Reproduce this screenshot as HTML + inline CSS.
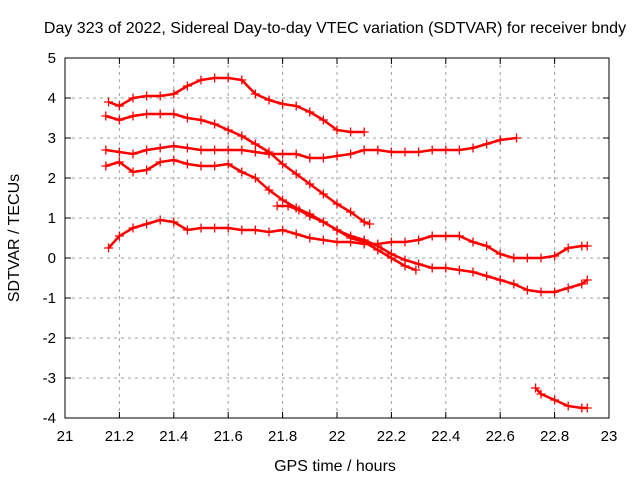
<!DOCTYPE html>
<html><head><meta charset="utf-8"><style>
body{margin:0;background:#fff}
svg{display:block;font-family:"Liberation Sans",sans-serif}
</style></head><body>
<svg id="chart" width="640" height="480" xmlns="http://www.w3.org/2000/svg">
<rect width="640" height="480" fill="#fff"/>
<text x="335" y="33" font-size="16" text-anchor="middle">Day 323 of 2022, Sidereal Day-to-day VTEC variation (SDTVAR) for receiver bndy</text>
<text x="335" y="471" font-size="16" text-anchor="middle">GPS time / hours</text>
<text x="19" y="238" font-size="16" text-anchor="middle" transform="rotate(-90 19 238)">SDTVAR / TECUs</text>
<g id="grid"></g>
<g id="marks"></g>
<rect x="65" y="58" width="544" height="360" fill="none" stroke="#000" stroke-width="1"/>
</svg>
<script>
const xTicks=[21,21.2,21.4,21.6,21.8,22,22.2,22.4,22.6,22.8,23];
const xTickLabels=["21","21.2","21.4","21.6","21.8","22","22.2","22.4","22.6","22.8","23"];
const yTicks=[5,4,3,2,1,0,-1,-2,-3,-4];
const yTickLabels=["5","4","3","2","1","0","-1","-2","-3","-4"];
const trackA=[[21.16,3.9],[21.2,3.8],[21.25,4.0],[21.3,4.05],[21.35,4.05],[21.4,4.1],[21.45,4.3],[21.5,4.45],[21.55,4.5],[21.6,4.5],[21.65,4.45],[21.7,4.1],[21.75,3.95],[21.8,3.85],[21.85,3.8],[21.9,3.65],[21.95,3.45],[22.0,3.2],[22.05,3.15],[22.1,3.15]];
const trackB=[[21.15,3.55],[21.2,3.45],[21.25,3.55],[21.3,3.6],[21.35,3.6],[21.4,3.6],[21.45,3.5],[21.5,3.45],[21.55,3.35],[21.6,3.2],[21.65,3.05],[21.7,2.85],[21.75,2.65],[21.8,2.35],[21.85,2.1],[21.9,1.85],[21.95,1.6],[22.0,1.35],[22.05,1.15],[22.1,0.9],[22.12,0.85]];
const trackC=[[21.15,2.7],[21.2,2.65],[21.25,2.6],[21.3,2.7],[21.35,2.75],[21.4,2.8],[21.45,2.75],[21.5,2.7],[21.55,2.7],[21.6,2.7],[21.65,2.7],[21.7,2.65],[21.75,2.6],[21.8,2.6],[21.85,2.6],[21.9,2.5],[21.95,2.5],[22.0,2.55],[22.05,2.6],[22.1,2.7],[22.15,2.7],[22.2,2.65],[22.25,2.65],[22.3,2.65],[22.35,2.7],[22.4,2.7],[22.45,2.7],[22.5,2.75],[22.55,2.85],[22.6,2.95],[22.66,3.0]];
const trackD=[[21.15,2.3],[21.2,2.4],[21.25,2.15],[21.3,2.2],[21.35,2.4],[21.4,2.45],[21.45,2.35],[21.5,2.3],[21.55,2.3],[21.6,2.35],[21.65,2.15],[21.7,2.0],[21.75,1.7],[21.8,1.45],[21.85,1.25],[21.9,1.1],[21.95,0.9],[22.0,0.7],[22.05,0.55],[22.1,0.45],[22.15,0.3],[22.2,0.1],[22.25,-0.05],[22.3,-0.15],[22.35,-0.25],[22.4,-0.25],[22.45,-0.3],[22.5,-0.35],[22.55,-0.45],[22.6,-0.55],[22.65,-0.65],[22.7,-0.8],[22.75,-0.85],[22.8,-0.85],[22.85,-0.75],[22.9,-0.65],[22.92,-0.55]];
const trackE=[[21.16,0.25],[21.2,0.55],[21.25,0.75],[21.3,0.85],[21.35,0.95],[21.4,0.9],[21.45,0.7],[21.5,0.75],[21.55,0.75],[21.6,0.75],[21.65,0.7],[21.7,0.7],[21.75,0.65],[21.8,0.7],[21.85,0.6],[21.9,0.5],[21.95,0.45],[22.0,0.4],[22.05,0.4],[22.1,0.35],[22.15,0.35],[22.2,0.4],[22.25,0.4],[22.3,0.45],[22.35,0.55],[22.4,0.55],[22.45,0.55],[22.5,0.4],[22.55,0.3],[22.6,0.1],[22.65,0.0],[22.7,0.0],[22.75,0.0],[22.8,0.05],[22.85,0.25],[22.9,0.3],[22.92,0.3]];
const trackF=[[21.78,1.3],[21.82,1.3],[21.86,1.2],[21.9,1.05],[21.95,0.9],[22.0,0.7],[22.05,0.5],[22.1,0.4],[22.15,0.2],[22.2,0.0],[22.25,-0.2],[22.29,-0.3]];
const trackH=[[22.73,-3.25],[22.75,-3.4],[22.8,-3.55],[22.85,-3.7],[22.9,-3.75],[22.92,-3.75]];
const tracks=[trackA,trackB,trackC,trackD,trackE,trackF,trackH];

const NS="http://www.w3.org/2000/svg";
const X0=65,X1=609,Y0=58,Y1=418;
function xs(v){return X0+(v-21)/(23-21)*(X1-X0);}
function ys(v){return Y0+(5-v)/(5-(-4))*(Y1-Y0);}
function mk(tag,attrs,parent){const e=document.createElementNS(NS,tag);for(const k in attrs)e.setAttribute(k,attrs[k]);parent.appendChild(e);return e;}
const grid=document.getElementById('grid');
const svg=document.getElementById('chart');
xTicks.forEach((t,i)=>{
  const x=xs(t);
  if(i>0&&i<xTicks.length-1){const g=mk('line',{x1:x,x2:x,y1:Y0,y2:Y1,stroke:'#a0a0a0','stroke-dasharray':'3,4'},grid);
  
  }
  mk('line',{x1:x,x2:x,y1:Y1,y2:Y1-6,stroke:'#000'},grid);
  mk('line',{x1:x,x2:x,y1:Y0,y2:Y0+6,stroke:'#000'},grid);
  const tx=mk('text',{x:x,y:Y1+23,'font-size':15,'text-anchor':'middle'},svg);
  tx.textContent=xTickLabels[i];
  
  
});
yTicks.forEach((t,i)=>{
  const y=ys(t);
  if(i>0&&i<yTicks.length-1){const g=mk('line',{x1:X0,x2:X1,y1:y,y2:y,stroke:'#a0a0a0','stroke-dasharray':'3,4'},grid);
  
  }
  mk('line',{x1:X0,x2:X0+6,y1:y,y2:y,stroke:'#000'},grid);
  mk('line',{x1:X1,x2:X1-6,y1:y,y2:y,stroke:'#000'},grid);
  const tx=mk('text',{x:X0-9,y:y+5,'font-size':15,'text-anchor':'end'},svg);
  tx.textContent=yTickLabels[i];
  
  
});
const marks=document.getElementById('marks');
tracks.forEach((tr,ti)=>{
  const g=mk('g',{},marks);
  
  
  const pl=mk('polyline',{points:tr.map(p=>xs(p[0])+','+ys(p[1])).join(' '),fill:'none',stroke:'#f00','stroke-width':2.5,'stroke-linejoin':'round'},g);
  
  
  tr.forEach(p=>{
    const x=xs(p[0]),y=ys(p[1]);
    const m=mk('path',{d:`M${x-4.5},${y}h9M${x},${y-4.5}v9`,stroke:'#f00','stroke-width':1.3},g);
    
    
  });
});
</script>
</body></html>
